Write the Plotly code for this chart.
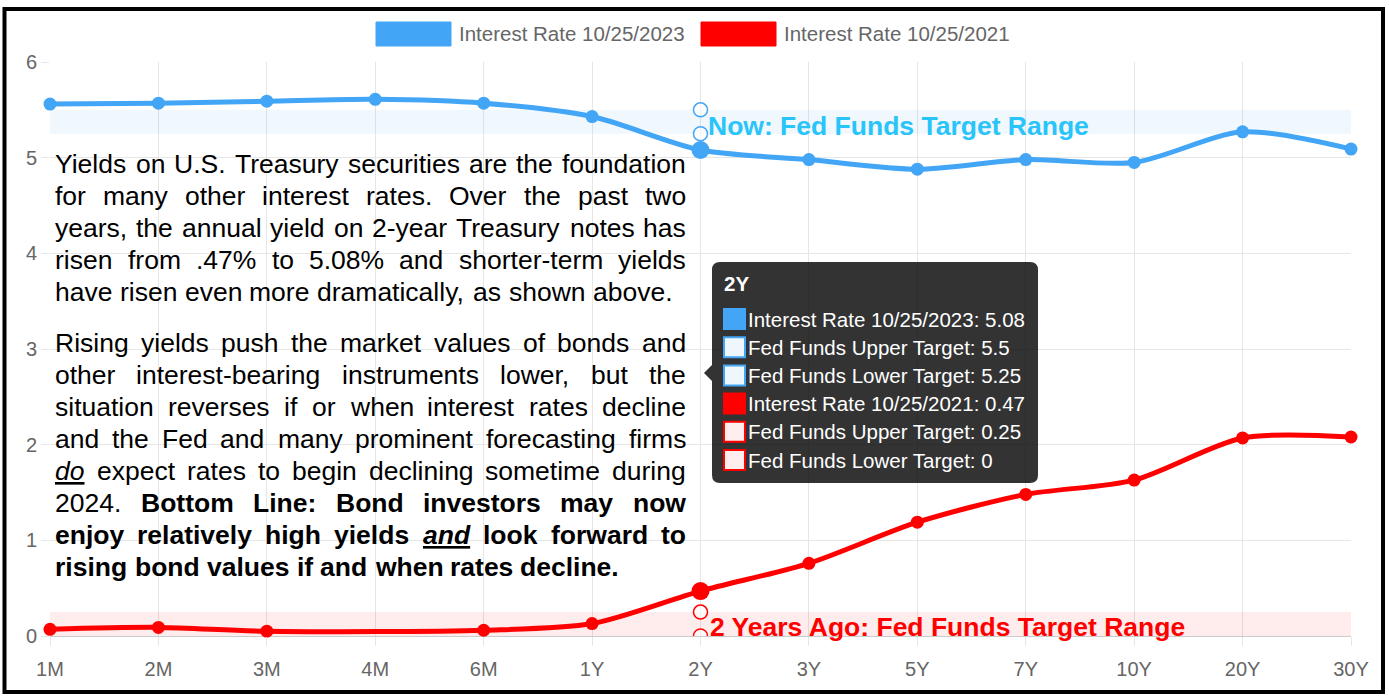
import plotly.graph_objects as go

# ---------------- data ----------------
maturities = ["1M", "2M", "3M", "4M", "6M", "1Y", "2Y", "3Y", "5Y", "7Y", "10Y", "20Y", "30Y"]
rate_2023 = [5.56, 5.57, 5.59, 5.61, 5.57, 5.43, 5.08, 4.98, 4.88, 4.98, 4.95, 5.27, 5.09]
rate_2021 = [0.07, 0.09, 0.05, None, 0.06, 0.13, 0.47, 0.76, 1.19, 1.48, 1.63, 2.07, 2.08]
ff_upper_2023 = [5.5, 5.5, 5.5, 5.5, 5.5, 5.5, 5.5, 5.5, 5.5, 5.5, 5.5, 5.5, 5.5]
ff_lower_2023 = [5.25, 5.25, 5.25, 5.25, 5.25, 5.25, 5.25, 5.25, 5.25, 5.25, 5.25, 5.25, 5.25]
ff_upper_2021 = [0.25, 0.25, 0.25, 0.25, 0.25, 0.25, 0.25, 0.25, 0.25, 0.25, 0.25, 0.25, 0.25]
ff_lower_2021 = [0, 0, 0, 0, 0, 0, 0, 0, 0, 0, 0, 0, 0]
name_2023 = "Interest Rate 10/25/2023"
name_2021 = "Interest Rate 10/25/2021"
name_upper = "Fed Funds Upper Target"
name_lower = "Fed Funds Lower Target"
hover_category = "2Y"
band_label_now = "Now: Fed Funds Target Range"
band_label_ago = "2 Years Ago: Fed Funds Target Range"
y_ticks = [0, 1, 2, 3, 4, 5, 6]

para1 = [
    "Yields on U.S. Treasury securities are the foundation",
    "for many other interest rates. Over the past two",
    "years, the annual yield on 2-year Treasury notes has",
    "risen from .47% to 5.08% and shorter-term yields",
    "have risen even more dramatically, as shown above.",
]
para2 = [
    "Rising yields push the market values of bonds and",
    "other interest-bearing instruments lower, but the",
    "situation reverses if or when interest rates decline",
    "and the Fed and many prominent forecasting firms",
    "_do_ expect rates to begin declining sometime during",
    "2024. *Bottom* *Line:* *Bond* *investors* *may* *now*",
    "*enjoy* *relatively* *high* *yields* *_and_* *look* *forward* *to*",
    "*rising* *bond* *values* *if* *and* *when* *rates* *decline.*",
]

# ---------------- styles ----------------
BLUE = "#42A5F5"
RED = "#FF0000"
BAND_BLUE = "rgba(66,165,245,0.08)"
BAND_RED = "rgba(255,0,0,0.07)"
SW_BLUE_LIGHT = "#EEF6FE"
SW_RED_LIGHT = "#FFEEEE"
NOW_TEXT = "#29C4F9"
GRID = "#E6E6E6"
TICK_TXT = "#666666"
FONT = "Liberation Sans, Arial, sans-serif"

W, H = 1389, 698
L, R, T, B = 50, 1351, 62, 636


def xp(px):
    return (px - L) / (R - L)


def yp(py):
    return (B - py) / (B - T)


idx = maturities.index(hover_category)

fig = go.Figure()

# fed funds bands
for lo, up, fc in [(ff_lower_2023, ff_upper_2023, BAND_BLUE), (ff_lower_2021, ff_upper_2021, BAND_RED)]:
    fig.add_trace(go.Scatter(x=maturities, y=lo, mode="lines", line=dict(width=0),
                             hoverinfo="skip", showlegend=False))
    fig.add_trace(go.Scatter(x=maturities, y=up, mode="lines", line=dict(width=0),
                             fill="tonexty", fillcolor=fc, hoverinfo="skip", showlegend=False))

# main lines
for ys, col, nm in [(rate_2021, RED, name_2021), (rate_2023, BLUE, name_2023)]:
    sizes = [18 if m == hover_category else 13 for m in maturities]
    fig.add_trace(go.Scatter(
        x=maturities, y=ys, mode="lines+markers", name=nm, connectgaps=True,
        line=dict(color=col, width=5, shape="spline", smoothing=0.8),
        marker=dict(color=col, size=sizes, opacity=1, line=dict(width=0)),
        cliponaxis=False, showlegend=False))

# hollow markers for the fed-funds values at the hovered category
for ys, col in [(ff_upper_2023, BLUE), (ff_lower_2023, BLUE), (ff_upper_2021, RED), (ff_lower_2021, RED)]:
    fig.add_trace(go.Scatter(
        x=[hover_category], y=[ys[idx]], mode="markers",
        marker=dict(size=14, color="rgba(255,255,255,0.6)", line=dict(color=col, width=1.5)),
        cliponaxis=True, showlegend=False, hoverinfo="skip"))

shapes = []
annotations = []

# outer frame
shapes.append(dict(type="rect", xref="paper", yref="paper",
                   x0=xp(4.5), x1=xp(1383), y0=yp(9), y1=yp(692),
                   line=dict(color="black", width=4), fillcolor="rgba(0,0,0,0)", layer="above"))

# custom legend
for bx, col, nm in [(376, BLUE, name_2023), (701, RED, name_2021)]:
    shapes.append(dict(type="rect", xref="paper", yref="paper",
                       x0=xp(bx), x1=xp(bx + 75), y0=yp(22), y1=yp(46),
                       fillcolor=col, line=dict(color=col, width=1)))
    annotations.append(dict(xref="paper", yref="paper", x=xp(bx + 83), y=yp(34),
                            xanchor="left", yanchor="middle", showarrow=False, text=nm,
                            font=dict(family=FONT, size=20.5, color=TICK_TXT),
                            borderpad=0, borderwidth=0))

# band labels
annotations.append(dict(xref="paper", yref="paper", x=xp(708), y=yp(126), xanchor="left",
                        yanchor="middle", showarrow=False, text="<b>" + band_label_now + "</b>",
                        font=dict(family=FONT, size=26.5, color=NOW_TEXT), borderpad=0, borderwidth=0))
annotations.append(dict(xref="paper", yref="paper", x=xp(710), y=yp(627), xanchor="left",
                        yanchor="middle", showarrow=False, text="<b>" + band_label_ago + "</b>",
                        font=dict(family=FONT, size=26.5, color=RED), borderpad=0, borderwidth=0))

# ---------------- paragraph (justified via Arial metrics) ----------------
REG = {' ': 278, ',': 278, '-': 333, '.': 278, ':': 278, '%': 889, '/': 278,
       'A': 667, 'B': 667, 'C': 722, 'D': 722, 'E': 667, 'F': 611, 'G': 778, 'H': 722, 'I': 278,
       'J': 500, 'K': 667, 'L': 556, 'M': 833, 'N': 722, 'O': 778, 'P': 667, 'Q': 778, 'R': 722,
       'S': 667, 'T': 611, 'U': 722, 'V': 667, 'W': 944, 'X': 667, 'Y': 667, 'Z': 611,
       'a': 556, 'b': 556, 'c': 500, 'd': 556, 'e': 556, 'f': 278, 'g': 556, 'h': 556, 'i': 222,
       'j': 222, 'k': 500, 'l': 222, 'm': 833, 'n': 556, 'o': 556, 'p': 556, 'q': 556, 'r': 333,
       's': 500, 't': 278, 'u': 556, 'v': 500, 'w': 722, 'x': 500, 'y': 500, 'z': 500}
BOLD = {' ': 278, ',': 278, '-': 333, '.': 278, ':': 333, '%': 889, '/': 278,
        'A': 722, 'B': 722, 'C': 722, 'D': 722, 'E': 667, 'F': 611, 'G': 778, 'H': 722, 'I': 278,
        'J': 556, 'K': 722, 'L': 611, 'M': 833, 'N': 722, 'O': 778, 'P': 667, 'Q': 778, 'R': 722,
        'S': 667, 'T': 611, 'U': 722, 'V': 667, 'W': 944, 'X': 667, 'Y': 667, 'Z': 611,
        'a': 556, 'b': 611, 'c': 556, 'd': 611, 'e': 556, 'f': 333, 'g': 611, 'h': 611, 'i': 278,
        'j': 278, 'k': 556, 'l': 278, 'm': 889, 'n': 611, 'o': 611, 'p': 611, 'q': 611, 'r': 389,
        's': 556, 't': 333, 'u': 611, 'v': 556, 'w': 778, 'x': 556, 'y': 556, 'z': 500}
PSIZE = 26.5
TEXT_L, TEXT_R = 55, 686
LINE_GAP = 32.0


def parse(tok):
    bold = tok.startswith("*") and tok.endswith("*")
    if bold:
        tok = tok[1:-1]
    iu = tok.startswith("_") and tok.endswith("_")
    if iu:
        tok = tok[1:-1]
    tab = BOLD if bold else REG
    width = sum(tab.get(ch, 556) for ch in tok) * PSIZE / 1000.0
    html = tok
    if iu:
        html = '<i><span style="text-decoration:underline">' + html + '</span></i>'
    if bold:
        html = "<b>" + html + "</b>"
    return html, width


def layout_paragraph(lines, top):
    for li, line in enumerate(lines):
        toks = [parse(t) for t in line.split(" ")]
        total = sum(w for _, w in toks)
        last = li == len(lines) - 1
        gap = REG[' '] * PSIZE / 1000.0 if last else (TEXT_R - TEXT_L - total) / (len(toks) - 1)
        x = TEXT_L
        ypix = top + li * LINE_GAP
        for html, w in toks:
            annotations.append(dict(xref="paper", yref="paper", x=xp(x), y=yp(ypix),
                                    xanchor="left", yanchor="middle", showarrow=False, text=html,
                                    font=dict(family=FONT, size=PSIZE, color="black"),
                                    borderpad=0, borderwidth=0))
            x += w + gap


layout_paragraph(para1, 164)
layout_paragraph(para2, 343)

# ---------------- tooltip ----------------
tx0, tx1, ty0, ty1, rr = 712, 1038, 262, 483, 8
cy, tip = 373, 704


def P(px, py):
    return "%.5f,%.5f" % (xp(px), yp(py))


path = ("M " + P(tx0 + rr, ty0) + " L " + P(tx1 - rr, ty0) + " Q " + P(tx1, ty0) + " " + P(tx1, ty0 + rr) +
        " L " + P(tx1, ty1 - rr) + " Q " + P(tx1, ty1) + " " + P(tx1 - rr, ty1) +
        " L " + P(tx0 + rr, ty1) + " Q " + P(tx0, ty1) + " " + P(tx0, ty1 - rr) +
        " L " + P(tx0, cy + 8) + " L " + P(tip, cy) + " L " + P(tx0, cy - 8) +
        " L " + P(tx0, ty0 + rr) + " Q " + P(tx0, ty0) + " " + P(tx0 + rr, ty0) + " Z")
shapes.append(dict(type="path", xref="paper", yref="paper", path=path,
                   fillcolor="rgba(0,0,0,0.8)", line=dict(width=0), layer="above"))

annotations.append(dict(xref="paper", yref="paper", x=xp(724), y=yp(283), xanchor="left",
                        yanchor="middle", showarrow=False, text="<b>" + hover_category + "</b>",
                        font=dict(family=FONT, size=20.5, color="white"), borderpad=0, borderwidth=0))

rows = [
    (name_2023, rate_2023[idx], BLUE, BLUE),
    (name_upper, ff_upper_2023[idx], SW_BLUE_LIGHT, BLUE),
    (name_lower, ff_lower_2023[idx], SW_BLUE_LIGHT, BLUE),
    (name_2021, rate_2021[idx], RED, RED),
    (name_upper, ff_upper_2021[idx], SW_RED_LIGHT, RED),
    (name_lower, ff_lower_2021[idx], SW_RED_LIGHT, RED),
]
for ri, (nm, val, fill, border) in enumerate(rows):
    ry = 319 + ri * 28.2
    shapes.append(dict(type="rect", xref="paper", yref="paper", x0=xp(724), x1=xp(745),
                       y0=yp(ry - 10), y1=yp(ry + 10), fillcolor=fill,
                       line=dict(color=border, width=2), layer="above"))
    annotations.append(dict(xref="paper", yref="paper", x=xp(748), y=yp(ry), xanchor="left",
                            yanchor="middle", showarrow=False, text="%s: %g" % (nm, val),
                            font=dict(family=FONT, size=20.5, color="white"),
                            borderpad=0, borderwidth=0))

fig.update_layout(
    width=W, height=H,
    margin=dict(l=L, r=W - R, t=T, b=H - B, pad=0),
    paper_bgcolor="white", plot_bgcolor="white",
    showlegend=False, hovermode=False,
    shapes=shapes, annotations=annotations,
    xaxis=dict(type="category", range=[0, len(maturities) - 1], showgrid=True, gridcolor=GRID,
               ticks="outside", ticklen=9, tickcolor=GRID, tickfont=dict(family=FONT, size=20, color=TICK_TXT),
               ticklabelstandoff=6, showline=False, zeroline=False, fixedrange=True),
    yaxis=dict(range=[0, 6], tickvals=y_ticks, showgrid=True, gridcolor=GRID,
               ticks="outside", ticklen=8, tickcolor=GRID, tickfont=dict(family=FONT, size=20, color=TICK_TXT),
               zeroline=True, zerolinecolor="#CCCCCC", zerolinewidth=1, showline=False, fixedrange=True),
)

fig.write_html("out.html", config={"displayModeBar": False},
               post_script="document.body.style.margin='0';document.body.style.overflow='hidden';")
